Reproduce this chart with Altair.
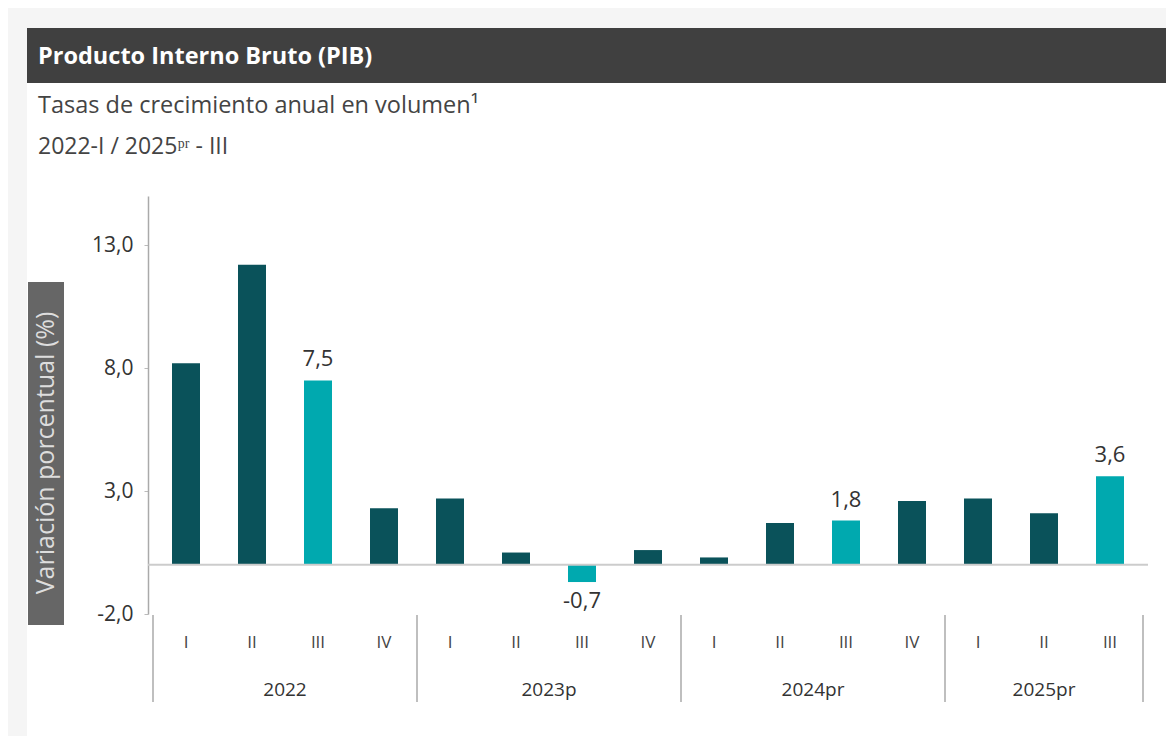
import altair as alt
import pandas as pd
import numpy as np

# ---- data ----
years = ["2022"] * 4 + ["2023p"] * 4 + ["2024pr"] * 4 + ["2025pr"] * 3
quarters = ["I", "II", "III", "IV"] * 3 + ["I", "II", "III"]
values = [8.2, 12.2, 7.5, 2.3, 2.7, 0.5, -0.7, 0.6, 0.3, 1.7, 1.8, 2.6, 2.7, 2.1, 3.6]
year_labels = ["2022", "2023p", "2024pr", "2025pr"]
y_ticks = [-2, 3, 8, 13]

title_txt = "Producto Interno Bruto (PIB)"
sub1 = "Tasas de crecimiento anual en volumen¹"
sub2 = "2022-I / 2025ᵖʳ - III"
ytitle = "Variación porcentual (%)"

DARK = "#0a525a"
LIGHT = "#00a9af"
FONT = "Open Sans"

n = len(values)
df = pd.DataFrame({
    "pos": np.arange(n) + 0.5,
    "year": years,
    "q": quarters,
    "value": values,
    "hl": ["Sí" if q == "III" else "No" for q in quarters],
})
df["label"] = df["value"].map(lambda v: f"{v:.1f}".replace(".", ","))
df["lab_show"] = np.where(df["hl"] == "Sí", df["label"], "")

counts = [years.count(y) for y in year_labels]
edges = np.concatenate([[0], np.cumsum(counts)])
ydf = pd.DataFrame({"year": year_labels, "center": (edges[:-1] + edges[1:]) / 2})
sdf = pd.DataFrame({"sep": edges})

xscale = alt.Scale(domain=[0, n], nice=False, zero=False)
yscale = alt.Scale(domain=[-2, 15], nice=False, zero=False)

one = pd.DataFrame({"k": [0]})
base1 = alt.Chart(one)

GRAY = "#f5f5f5"
strip_left = base1.mark_rect(color=GRAY).encode(
    x=alt.value(-140), x2=alt.value(-121), y=alt.value(-188), y2=alt.value(540))
strip_top = base1.mark_rect(color=GRAY).encode(
    x=alt.value(-140), x2=alt.value(1018), y=alt.value(-188), y2=alt.value(-168))
bar_title = base1.mark_rect(color="#404040").encode(
    x=alt.value(-121), x2=alt.value(1018), y=alt.value(-168), y2=alt.value(-113))
t_title = base1.mark_text(align="left", baseline="middle", font=FONT, fontSize=23.5,
                          fontWeight="bold", color="white").encode(
    x=alt.value(-110), y=alt.value(-139), text=alt.value(title_txt))
t_sub1 = base1.mark_text(align="left", baseline="middle", font=FONT, fontSize=23.5,
                         color="#444444").encode(
    x=alt.value(-110), y=alt.value(-90), text=alt.value(sub1))
t_sub2 = base1.mark_text(align="left", baseline="middle", font=FONT, fontSize=23,
                         color="#444444").encode(
    x=alt.value(-110), y=alt.value(-49), text=alt.value(sub2))
ybox = base1.mark_rect(color="#666666").encode(
    x=alt.value(-120), x2=alt.value(-84), y=alt.value(86), y2=alt.value(429))
ytext = base1.mark_text(align="center", baseline="middle", font=FONT, fontSize=25,
                        angle=270, color="#dddddd").encode(
    x=alt.value(-102), y=alt.value(257), text=alt.value(ytitle))

base = alt.Chart(df)

zero = alt.Chart(one).mark_rule(color="#cccccc", strokeWidth=2).encode(
    x=alt.value(0), x2=alt.value(1000), y=alt.datum(0, scale=yscale))

bars = base.mark_bar(width=28).encode(
    x=alt.X("pos:Q", scale=xscale, axis=None),
    y=alt.Y("value:Q", scale=yscale, title=None,
            axis=alt.Axis(values=y_ticks,
                          labelExpr="replace(replace(format(datum.value, '.1f'), '.', ','), '\u2212', '-')",
                          labelFont=FONT, labelFontSize=21, labelColor="#333333",
                          labelPadding=11, tickSize=4, tickColor="#bbbbbb",
                          domainColor="#aaaaaa", domainWidth=1.5, grid=False)),
    y2=alt.datum(0),
    color=alt.Color("hl:N", scale=alt.Scale(domain=["No", "Sí"], range=[DARK, LIGHT]), legend=None),
)

pos_lab = base.transform_filter("datum.value >= 0").mark_text(
    baseline="bottom", dy=-9, font=FONT, fontSize=22, color="#333333").encode(
    x=alt.X("pos:Q", scale=xscale), y=alt.Y("value:Q", scale=yscale),
    text="lab_show:N")
neg_lab = base.transform_filter("datum.value < 0").mark_text(
    baseline="top", dy=9, font=FONT, fontSize=22, color="#333333").encode(
    x=alt.X("pos:Q", scale=xscale), y=alt.Y("value:Q", scale=yscale),
    text="lab_show:N")

q_lab = base.mark_text(baseline="middle", font=FONT, fontSize=17, color="#444444").encode(
    x=alt.X("pos:Q", scale=xscale), y=alt.value(447), text="q:N")
y_lab = alt.Chart(ydf).mark_text(baseline="middle", font=FONT, fontSize=19, color="#333333").encode(
    x=alt.X("center:Q", scale=xscale), y=alt.value(494), text="year:N")
seps = alt.Chart(sdf).mark_rule(color="#aaaaaa", strokeWidth=1.5).encode(
    x=alt.X("sep:Q", scale=xscale), y=alt.value(419), y2=alt.value(506))

chart = alt.layer(
    bars, strip_left, strip_top, bar_title, t_title, t_sub1, t_sub2, ybox, ytext,
    zero, pos_lab, neg_lab, q_lab, y_lab, seps
).properties(
    width=1000, height=418,
    autosize=alt.AutoSizeParams(type="none"),
    padding={"left": 140, "top": 188, "right": 18, "bottom": 122},
    background="white",
).configure_view(stroke=None).configure_axisX(disable=True)

chart.save("out.html", embed_options={"renderer": "svg", "actions": False})
